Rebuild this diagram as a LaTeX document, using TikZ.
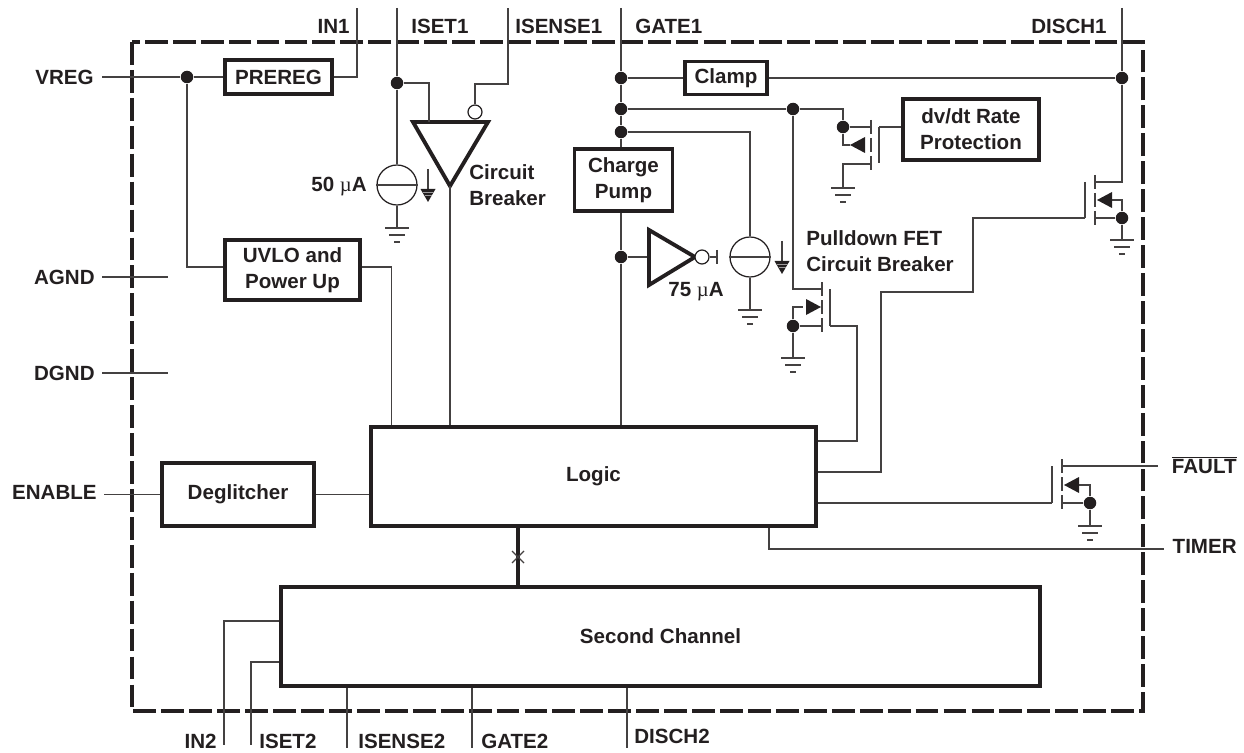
\documentclass[tikz,border=0pt]{standalone}
\usepackage{fontspec}
\setmainfont{Liberation Sans}
\newfontfamily\greekfont{Liberation Serif}
\usetikzlibrary{positioning,calc}
\definecolor{ink}{HTML}{231F20}
\newcommand{\uA}{{\greekfont\mdseries µ}A}

\begin{document}
\begin{tikzpicture}[x=0.02cm, y=-0.02cm, ink,
    every node/.style={font=\fontsize{11.7pt}{14.7pt}\selectfont\bfseries, text=ink, inner sep=0pt},
    wire/.style={line width=0.7pt, draw=ink!85},
    block/.style={draw=ink, line width=2.2pt, align=center},
    dot/.style={circle, fill=ink, minimum size=0.25cm},
    bubble/.style={circle, draw=ink, line width=0.7pt, fill=white, minimum size=0.28cm},
    source/.style={circle, draw=ink, line width=0.7pt, minimum size=0.8cm},
    amp/.style={line width=2.2pt, line join=miter, draw=ink},
    pics/earth/.style={code={
      \draw[wire] (-12,0) -- (12,0); \draw[wire] (-8,7) -- (8,7); \draw[wire] (-3,14) -- (3,14);}},
    pics/channel/.style={code={
      \draw[wire] (0,0) -- (0,14); \draw[wire] (0,18) -- (0,32); \draw[wire] (0,36) -- (0,50);}},
    pics/diode/.style={code={\fill[ink] (0,0) -- (15,-8) -- (15,8) -- cycle;}},
    pics/chassis/.style={code={
      \draw[wire] (0,0) -- (0,21); \fill[ink] (-7.5,20) -- (7.5,20) -- (0,33) -- cycle;
      \draw[ink!45, line width=0.2pt] (-5.5,23) -- (5.5,23); \draw[ink!45, line width=0.2pt] (-3.5,26) -- (3.5,26);}}
  ]
    \useasboundingbox (0,0) rectangle (1244,753);

    % Device outline
    \draw[ink, line width=2.2pt, dash pattern=on 13pt off 2.9pt] (132,42) rectangle (1143,711);

    % Blocks
    \node[block, minimum width=2.14cm, minimum height=0.68cm] (prereg) at (278.5,77) {PREREG};
    \node[block, minimum width=2.7cm, minimum height=1.2cm] (uvlo) at (292.5,270) {UVLO and\\Power Up};
    \node[block, minimum width=1.96cm, minimum height=1.24cm] (pump) at (623.5,180) {Charge\\Pump};
    \node[block, minimum width=1.64cm, minimum height=0.66cm] (clamp) at (726,78) {Clamp};
    \node[block, minimum width=2.72cm, minimum height=1.22cm] (dvdt) at (971,129.5) {dv/dt Rate\\Protection};
    \node[block, minimum width=8.9cm, minimum height=1.98cm] (logic) at (593.5,476.5) {Logic};
    \node[block, minimum width=3.04cm, minimum height=1.26cm] (deglitch) at (238,494.5) {Deglitcher};
    \node[block, minimum width=15.18cm, minimum height=1.98cm] (second) at (660.5,636.5) {Second Channel};

    % Pins, outside the outline
    \coordinate (in1) at (357,8); \coordinate (iset1) at (397,8);
    \coordinate (isense1) at (508,8); \coordinate (gate1) at (621,8);
    \coordinate (disch1) at (1122,8); \coordinate (vreg) at (102,77);
    \coordinate (agnd) at (102,277); \coordinate (dgnd) at (102,373);
    \coordinate (enable) at (104,494.5); \coordinate (fault) at (1158,466);
    \coordinate (timer) at (1164,549); \coordinate (in2) at (224,745);
    \coordinate (iset2) at (251,745); \coordinate (isense2) at (347,748);
    \coordinate (gate2) at (472,748); \coordinate (disch2) at (627,748);

    % Junctions
    \node[dot] (jvreg) at (187,77) {}; \node[dot] (jiset) at (397,83) {};
    \node[dot] (jclamp) at (621,78) {}; \node[dot] (jrate) at (621,109) {};
    \node[dot] (jpump) at (621,132) {}; \node[dot] (jamp) at (621,257) {};
    \node[dot] (jdisch) at (1122,78) {}; \node[dot] (jpull) at (793,109) {};
    \node[dot] (jfet) at (843,127) {}; \node[dot] (jpsrc) at (793,326) {};
    \node[dot] (jdsrc) at (1122,218) {}; \node[dot] (jfsrc) at (1090,503) {};

    % Regulator and power up
    \draw[wire] (vreg) -- (jvreg) -- (prereg.west);
    \draw[wire] (prereg.east) -| (in1);
    \draw[wire] (jvreg) |- (uvlo.west |- 0,267);
    \draw[wire] (uvlo.east |- 0,267) -| ($(logic.north west)+(22,0)$);
    \draw[wire] (agnd) -- (168,277);
    \draw[wire] (dgnd) -- (168,373);
    \draw[wire] (enable) -- (deglitch.west);
    \draw[wire] (deglitch.east) -- (deglitch.east -| logic.west);

    % Circuit breaker
    \node[source] (cs1) at (397,185) {};
    \draw[wire] (cs1.west) -- (cs1.east);
    \draw[wire] (iset1) -- (jiset) -- (cs1.north);
    \coordinate (e1) at (397,228);
    \draw[wire] (cs1.south) -- (e1); \pic at (e1) {earth};
    \pic at (428,169) {chassis};
    \coordinate (cb) at (450,186);
    \draw[amp] (413,122) -- (488,122) -- (cb) -- cycle;
    \draw[wire] (jiset) -| (429,122);
    \node[bubble] (cbn) at (475,112) {};
    \draw[wire] (cbn.north) |- (isense1 |- 0,84) -- (isense1);
    \draw[wire] (cb) -- (cb |- logic.north);

    % Gate rail
    \draw[wire] (gate1) -- (jclamp) -- (jrate) -- (jpump) -- (pump.north -| jpump);
    \draw[wire] (pump.south -| jamp) -- (jamp) -- (jamp |- logic.north);
    \draw[wire] (jclamp) -- (clamp.west);
    \draw[wire] (clamp.east) -- (jdisch);
    \draw[wire] (disch1) -- (jdisch) -- (1122,182) -- (1095,182);
    \draw[wire] (jrate) -- (jpull) -| (jfet);

    % 75 uA stage
    \coordinate (ampin) at (649,257); \coordinate (ampout) at (695,257);
    \draw[wire] (jamp) -- (ampin);
    \draw[amp] (649,230) -- (ampout) -- (649,285) -- cycle;
    \node[bubble] (ampn) at (702,257) {};
    \coordinate (stub) at (717,257);
    \draw[wire] (ampn) -- (stub); \draw[wire] (717,250) -- (717,264);
    \node[source] (cs2) at (750,257) {};
    \draw[wire] (cs2.west) -- (cs2.east);
    \draw[wire] (jpump) -| (cs2.north);
    \coordinate (e2) at (750,310);
    \draw[wire] (cs2.south) -- (e2); \pic at (e2) {earth};
    \pic at (782,241) {chassis};

    % dv/dt FET
    \pic at (871,120) {channel};
    \draw[wire] (jfet) -- (871,127);
    \draw[wire] (jfet) |- (850,145); \pic at (850,145) {diode};
    \coordinate (e3) at (843,188);
    \draw[wire] (871,164) -| (e3); \pic at (e3) {earth};
    \draw[wire] (879,127) -- (879,163);
    \draw[wire] (879,127) -- (dvdt.west |- 0,127);

    % Pulldown FET
    \pic at (822,282) {channel};
    \draw[wire] (jpull) |- (822,289);
    \draw[wire] (jpsrc) |- (803,307); \pic[xscale=-1] at (821,307) {diode};
    \draw[wire] (jpsrc) -- (822,326);
    \coordinate (e4) at (793,358);
    \draw[wire] (jpsrc) -- (e4); \pic at (e4) {earth};
    \draw[wire] (830,289) -- (830,326);
    \draw[wire] (830,326) -- (857,326) -- (857,441) -- (logic.east |- 0,441);

    % Discharge FET
    \pic at (1095,175) {channel};
    \draw[wire] (jdsrc) |- (1111,200); \pic at (1097,200) {diode};
    \draw[wire] (jdsrc) -- (1095,218);
    \coordinate (e5) at (1122,240);
    \draw[wire] (jdsrc) -- (e5); \pic at (e5) {earth};
    \draw[wire] (1085,182) -- (1085,218);
    \draw[wire] (1085,218) -- (973,218) -- (973,292) -- (881,292) -- (881,472) -- (logic.east |- 0,472);

    % Fault FET
    \pic at (1062,459) {channel};
    \draw[wire] (1062,466) -- (fault);
    \draw[wire] (jfsrc) |- (1078,485); \pic at (1064,485) {diode};
    \draw[wire] (jfsrc) -- (1062,503);
    \coordinate (e6) at (1090,526);
    \draw[wire] (jfsrc) -- (e6); \pic at (e6) {earth};
    \draw[wire] (1052,466) -- (1052,503);
    \draw[wire] (logic.east |- 0,503) -- (1052,503);

    % Timer and second channel
    \draw[wire] (logic.south -| 769,0) |- (timer);
    \draw[ink, line width=2.2pt] (logic.south -| 518,0) -- (second.north -| 518,0);
    \draw[wire] (512,551) -- (524,563); \draw[wire] (512,563) -- (524,551);
    \draw[wire] (second.west |- 0,621) -| (in2);
    \draw[wire] (second.west |- 0,662) -| (iset2);
    \draw[wire] (second.south -| isense2) -- (isense2);
    \draw[wire] (second.south -| gate2) -- (gate2);
    \draw[wire] (second.south -| disch2) -- (disch2);

    % Labels
    \node[anchor=east] (lin1) at (350,26) {IN1};
    \node[anchor=west] (liset1) at (411,26) {ISET1};
    \node[anchor=west] (lisense1) at (515,26) {ISENSE1};
    \node[anchor=west] (lgate1) at (635,26) {GATE1};
    \node[anchor=east] (ldisch1) at (1107,26) {DISCH1};
    \node[anchor=east] (lvreg) at (94,77) {VREG};
    \node[anchor=east] (lagnd) at (95,277) {AGND};
    \node[anchor=east] (ldgnd) at (95,373) {DGND};
    \node[anchor=east] (lenable) at (97,492) {ENABLE};
    \node[anchor=east] (lfault) at (1237,465) {$\overline{\mbox{FAULT}}$};
    \node[anchor=east] (ltimer) at (1237,546) {TIMER};
    \node[anchor=east] (lin2) at (217,741) {IN2};
    \node[anchor=west] (liset2) at (259,741) {ISET2};
    \node[anchor=west] (lisense2) at (358,741) {ISENSE2};
    \node[anchor=west] (lgate2) at (481,741) {GATE2};
    \node[anchor=west] (ldisch2) at (634,736) {DISCH2};
    \node[anchor=east] (l50) at (367,187) {50 \uA};
    \node[anchor=west] (l75) at (668,292) {75 \uA};
    \node[anchor=west, align=left] (lcb) at (469,185) {Circuit\\Breaker};
    \node[anchor=west, align=left] (lpull) at (806,251) {Pulldown FET\\Circuit Breaker};
\end{tikzpicture}
\end{document}
